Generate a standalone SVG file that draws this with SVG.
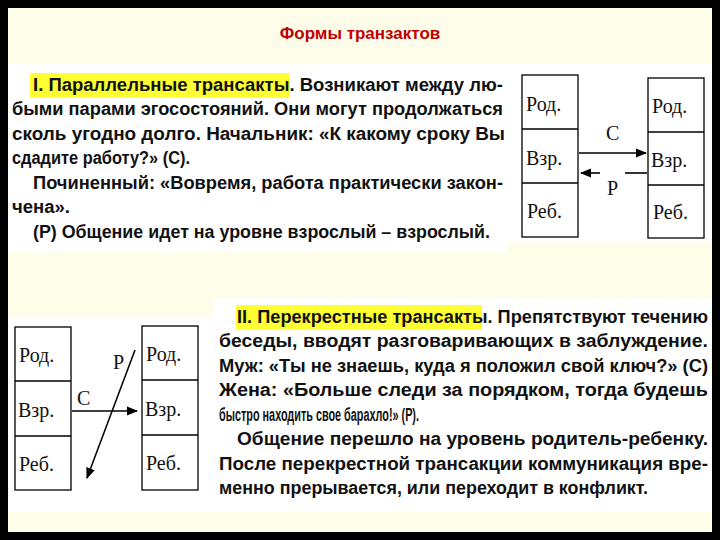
<svg xmlns="http://www.w3.org/2000/svg" width="720" height="540" viewBox="0 0 720 540">
<defs>
<style>
.t{font-family:"Liberation Sans",Arial,sans-serif;font-weight:bold;font-size:18px;fill:#111;}
.d{font-family:"Liberation Serif","Times New Roman",serif;font-size:20px;fill:#111;}
.b{fill:#fff;stroke:#000;stroke-width:1.3;}
.c{stroke:#000;stroke-width:1.6;fill:none;}
</style>
<marker id="ah" viewBox="0 0 10 10" refX="9" refY="5" markerWidth="7" markerHeight="7" orient="auto"><path d="M0,1 L10,5 L0,9 z" fill="#000"/></marker>
</defs>
<rect width="720" height="540" fill="#000"/>
<rect x="8" y="8" width="704" height="524" fill="#fdfdea"/>
<text x="360" y="39" text-anchor="middle" style="font-family:'Liberation Sans',Arial,sans-serif;font-weight:bold;font-size:17px;fill:#c00000">Формы транзактов</text>
<g id="block1">
<rect x="8" y="64" width="498" height="188" fill="#fff"/>
<rect x="30" y="73" width="260" height="25" fill="#ffff33"/>
<text class="t" x="33" y="91" textLength="470" lengthAdjust="spacingAndGlyphs">I. Параллельные трансакты. Возникают между лю-</text>
<text class="t" x="12" y="115" textLength="491" lengthAdjust="spacingAndGlyphs">быми парами эгосостояний. Они могут продолжаться</text>
<text class="t" x="12" y="140" textLength="493" lengthAdjust="spacingAndGlyphs">сколь угодно долго. Начальник: «К какому сроку Вы</text>
<text class="t" x="12" y="164" textLength="178" lengthAdjust="spacingAndGlyphs" font-size="19">сдадите работу?» (С).</text>
<text class="t" x="33" y="189" textLength="470" lengthAdjust="spacingAndGlyphs">Починенный: «Вовремя, работа практически закон-</text>
<text class="t" x="12" y="213" textLength="58" lengthAdjust="spacingAndGlyphs">чена».</text>
<text class="t" x="33" y="238" textLength="457" lengthAdjust="spacingAndGlyphs">(Р) Общение идет на уровне взрослый – взрослый.</text>
</g>
<rect x="506" y="64" width="206" height="178" fill="#fff"/>
<g id="d1-left">
<rect class="b" x="522" y="75" width="56" height="162"/>
<line class="c" x1="522" y1="129" x2="578" y2="129" stroke-width="1.3"/>
<line class="c" x1="522" y1="183" x2="578" y2="183" stroke-width="1.3"/>
<text class="d" x="526" y="111">Род.</text><text class="d" x="526" y="165">Взр.</text><text class="d" x="527" y="218">Реб.</text>
</g>
<g id="d1-right">
<rect class="b" x="648" y="78" width="56" height="160"/>
<line class="c" x1="648" y1="132" x2="704" y2="132" stroke-width="1.3"/>
<line class="c" x1="648" y1="185" x2="704" y2="185" stroke-width="1.3"/>
<text class="d" x="652" y="113">Род.</text><text class="d" x="651" y="167">Взр.</text><text class="d" x="653" y="219">Реб.</text>
</g>
<g id="d1-connectors">
<line class="c" x1="579" y1="153" x2="646" y2="153" marker-end="url(#ah)"/>
<line class="c" x1="625" y1="173" x2="647" y2="173"/>
<line class="c" x1="600" y1="173" x2="581" y2="173" marker-end="url(#ah)"/>
<text class="d" x="606" y="140" font-size="22">С</text>
<text class="d" x="607" y="195" font-size="22">Р</text>
</g>
<g id="block2">
<rect x="214" y="298" width="498" height="214" fill="#fff"/>
<rect x="236" y="305" width="246" height="25" fill="#ffff33"/>
<text class="t" x="237" y="323" textLength="471" lengthAdjust="spacingAndGlyphs">II. Перекрестные трансакты. Препятствуют течению</text>
<text class="t" x="219" y="347" textLength="489" lengthAdjust="spacingAndGlyphs">беседы, вводят разговаривающих в заблуждение.</text>
<text class="t" x="219" y="372" textLength="489" lengthAdjust="spacingAndGlyphs">Муж: «Ты не знаешь, куда я положил свой ключ?» (С)</text>
<text class="t" x="219" y="396" textLength="489" lengthAdjust="spacingAndGlyphs">Жена: «Больше следи за порядком, тогда будешь</text>
<text class="t" x="219" y="421" textLength="200" lengthAdjust="spacingAndGlyphs" font-size="19">быстро находить свое барахло!» (Р).</text>
<text class="t" x="237" y="445" textLength="471" lengthAdjust="spacingAndGlyphs">Общение перешло на уровень родитель-ребенку.</text>
<text class="t" x="219" y="470" textLength="489" lengthAdjust="spacingAndGlyphs">После перекрестной трансакции коммуникация вре-</text>
<text class="t" x="219" y="494" textLength="429" lengthAdjust="spacingAndGlyphs">менно прерывается, или переходит в конфликт.</text>
</g>
<rect x="8" y="318" width="206" height="194" fill="#fff"/>
<g id="d2-left">
<rect class="b" x="15" y="327" width="56" height="163"/>
<line class="c" x1="15" y1="381" x2="71" y2="381" stroke-width="1.3"/>
<line class="c" x1="15" y1="436" x2="71" y2="436" stroke-width="1.3"/>
<text class="d" x="19" y="362">Род.</text><text class="d" x="18" y="417">Взр.</text><text class="d" x="19" y="471">Реб.</text>
</g>
<g id="d2-right">
<rect class="b" x="142" y="326" width="56" height="164"/>
<line class="c" x1="142" y1="380" x2="198" y2="380" stroke-width="1.3"/>
<line class="c" x1="142" y1="435" x2="198" y2="435" stroke-width="1.3"/>
<text class="d" x="146" y="361">Род.</text><text class="d" x="145" y="416">Взр.</text><text class="d" x="146" y="470">Реб.</text>
</g>
<g id="d2-connectors">
<line class="c" x1="72" y1="411" x2="137" y2="411" marker-end="url(#ah)"/>
<line class="c" x1="135" y1="350" x2="87" y2="478" marker-end="url(#ah)"/>
<text class="d" x="77" y="405" font-size="22">С</text>
<text class="d" x="113" y="369" font-size="22">Р</text>
</g>
</svg>
